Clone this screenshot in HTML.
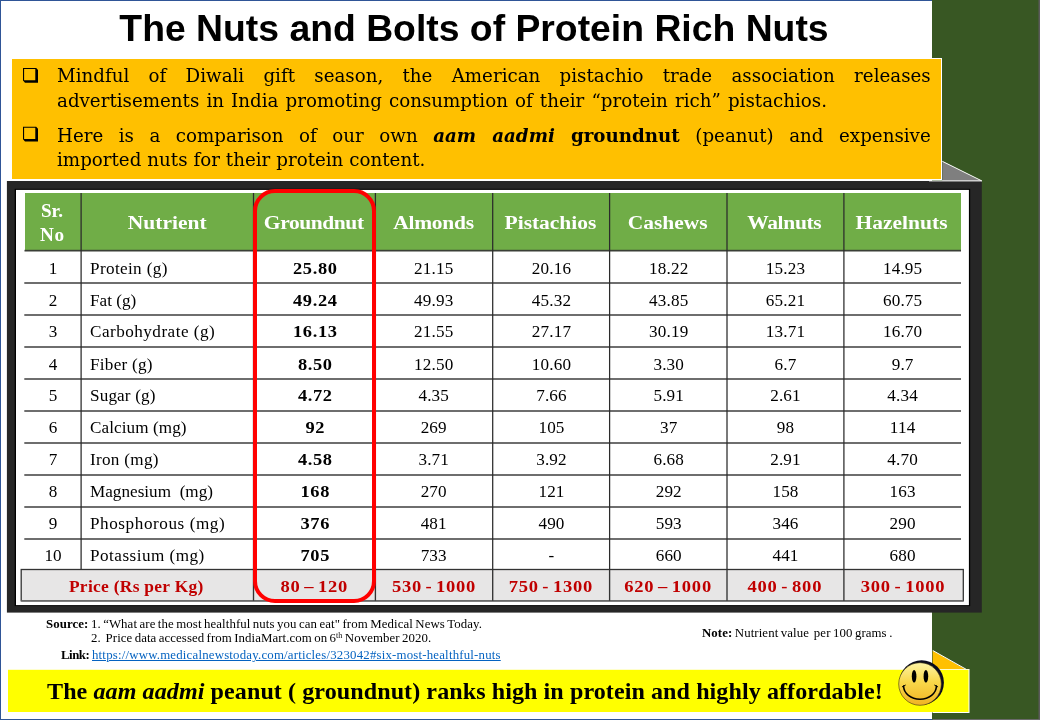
<!DOCTYPE html>
<html lang="en"><head><meta charset="utf-8"><title>The Nuts and Bolts of Protein Rich Nuts</title>
<style>
html,body{margin:0;padding:0}
body{width:1040px;height:720px;overflow:hidden;background:#385723;position:relative;font-family:"Liberation Serif", serif;color:#000}
.abs{position:absolute}
svg.abs{left:0;top:0}
.title,.bl,.hc,.c,.p,.src,.ytext{will-change:transform}
.slide{position:absolute;left:0;top:0;width:931px;height:718px;background:#fff;border-left:1px solid #2f5597;border-top:1px solid #2f5597;border-bottom:1px solid #2f5597}
.title{position:absolute;left:0;top:7px;width:948px;text-align:center;font:bold 37.33px/43px "Liberation Sans", sans-serif;white-space:nowrap}
.obox{position:absolute;left:11px;top:58px;width:929px;height:120px;background:#ffc000;border:1px solid #fff}
.bl{position:absolute;left:57.4px;white-space:nowrap;font-family:"DejaVu Serif", "Liberation Serif", serif;font-size:18.25px;line-height:26px;height:26px;text-align:justify;text-align-last:justify}
.c{transform:scaleX(1.07)}
.hc{transform:scaleX(1.12)}
.hc{position:absolute;color:#fff;font-weight:bold;font-size:19.2px;line-height:23.6px;text-align:center;white-space:nowrap}
.c{position:absolute;font-size:16px;line-height:32px;height:32px;white-space:pre;text-align:center;letter-spacing:0.15px;text-indent:0.15px}
.c.l{text-align:left;text-indent:0;transform-origin:0 50%}
.c.b{font-weight:bold;letter-spacing:0.55px;text-indent:0.55px;transform:scaleX(1.15)}
.p{position:absolute;color:#c00000;font-weight:bold;font-size:16.3px;line-height:31px;text-align:center;white-space:pre;word-spacing:-1.5px;transform:scaleX(1.14)}
.red{position:absolute;left:253px;top:188.5px;width:115px;height:406px;border:4px solid #ff0000;border-radius:22px}
.src{position:absolute;font-size:12px;line-height:14px;white-space:pre;transform:scaleX(1.07);transform-origin:0 50%}
.src u{color:#0563c1;text-decoration:underline}
.ybox{position:absolute;left:8px;top:670px;width:960.5px;height:42px;background:#ffff00}
.ytext{position:absolute;left:47px;top:670.9px;font-weight:bold;font-size:22.5px;line-height:42px;white-space:pre;letter-spacing:0.07px;transform:scaleX(1.07);transform-origin:0 50%}
</style></head>
<body>
<div class="slide"></div>
<svg class="abs" width="1040" height="720" viewBox="0 0 1040 720"><rect x="1038.5" y="0" width="1.5" height="720" fill="#5a5a5a"/><rect x="932.5" y="719" width="107.5" height="1" fill="#6a6a6a"/></svg>
<div class="title">The Nuts and Bolts of Protein Rich Nuts</div>
<div class="obox"></div>
<svg class="abs" width="60" height="200" viewBox="0 0 60 200"><path fill-rule="evenodd" d="M23 68H36.2L38 70V82.8H25L23 80.5Z M24.1 69.1V80.2H35.3V69.1Z"/><path fill-rule="evenodd" transform="translate(0 58.7)" d="M23 68H36.2L38 70V82.8H25L23 80.5Z M24.1 69.1V80.2H35.3V69.1Z"/></svg>
<div class="bl" style="top:63.0px;width:873.7px">Mindful of Diwali gift season, the American pistachio trade association releases</div>
<div class="bl" style="top:87.6px;width:770px">advertisements in India promoting consumption of their “protein rich” pistachios.</div>
<div class="bl" style="top:122.6px;width:873.7px">Here is a comparison of our own <b><i>aam aadmi</i> groundnut</b> (peanut) and expensive</div>
<div class="bl" style="top:147.2px;width:368.3px">imported nuts for their protein content.</div>
<svg class="abs" width="1040" height="720" viewBox="0 0 1040 720"><polygon points="942.3,161.3 981.8,181.3 942.3,181.3" fill="#7f7f7f"/><rect x="6.9" y="181" width="974.9" height="431.6" fill="#262626"/><polyline points="942.3,161.3 981.8,180.9 929,180.9" fill="none" stroke="#fff" stroke-width="1"/><rect x="14.7" y="188.8" width="955.5" height="417.3" fill="#000"/><rect x="16" y="189.9" width="952.9" height="415.2" fill="#fff"/><rect x="25" y="193" width="936" height="57.3" fill="#70ad47"/><rect x="24.5" y="249.8" width="936.5" height="1.7" fill="#3a3f36"/><rect x="24.3" y="282" width="936.7" height="2" fill="#6e6e6e"/><rect x="24.3" y="314" width="936.7" height="2" fill="#6e6e6e"/><rect x="24.3" y="346" width="936.7" height="2" fill="#6e6e6e"/><rect x="24.3" y="378" width="936.7" height="2" fill="#6e6e6e"/><rect x="24.3" y="410" width="936.7" height="2" fill="#6e6e6e"/><rect x="24.3" y="442" width="936.7" height="2" fill="#6e6e6e"/><rect x="24.3" y="474" width="936.7" height="2" fill="#6e6e6e"/><rect x="24.3" y="506" width="936.7" height="2" fill="#6e6e6e"/><rect x="24.3" y="538" width="936.7" height="2" fill="#6e6e6e"/><rect x="80.48" y="193" width="1.25" height="376.5" fill="#2b2b2b"/><rect x="252.88" y="193" width="1.25" height="376.5" fill="#2b2b2b"/><rect x="374.78" y="193" width="1.25" height="376.5" fill="#2b2b2b"/><rect x="492.08" y="193" width="1.25" height="376.5" fill="#2b2b2b"/><rect x="608.98" y="193" width="1.25" height="376.5" fill="#2b2b2b"/><rect x="726.38" y="193" width="1.25" height="376.5" fill="#2b2b2b"/><rect x="843.28" y="193" width="1.25" height="376.5" fill="#2b2b2b"/><rect x="21.2" y="569.5" width="942.1" height="31.3" fill="#e7e6e6" stroke="#333" stroke-width="1.3"/><rect x="21.2" y="600" width="942.1" height="1.6" fill="#6a6a6a"/><rect x="252.83" y="569.5" width="1.34" height="31.3" fill="#333"/><rect x="374.73" y="569.5" width="1.34" height="31.3" fill="#333"/><rect x="492.03" y="569.5" width="1.34" height="31.3" fill="#333"/><rect x="608.93" y="569.5" width="1.34" height="31.3" fill="#333"/><rect x="726.33" y="569.5" width="1.34" height="31.3" fill="#333"/><rect x="843.23" y="569.5" width="1.34" height="31.3" fill="#333"/></svg>
<div class="hc" style="left:24.4px;width:56.1px;top:199.0px;letter-spacing:-0.1px;text-indent:-0.1px;transform:none">Sr.</div>
<div class="hc" style="left:24.4px;width:56.1px;top:222.7px;letter-spacing:0.55px;text-indent:0.55px;transform:none">No</div>
<div class="hc" style="left:80.5px;width:172.4px;top:210.9px;letter-spacing:0.027px;text-indent:0.027px">Nutrient</div>
<div class="hc" style="left:252.9px;width:121.9px;top:210.9px;letter-spacing:-0.372px;text-indent:-0.372px">Groundnut</div>
<div class="hc" style="left:374.8px;width:117.3px;top:210.9px;letter-spacing:-0.209px;text-indent:-0.209px">Almonds</div>
<div class="hc" style="left:492.1px;width:116.9px;top:210.9px;letter-spacing:-0.024px;text-indent:-0.024px">Pistachios</div>
<div class="hc" style="left:609.0px;width:117.4px;top:210.9px;letter-spacing:-0.001px;text-indent:-0.001px">Cashews</div>
<div class="hc" style="left:726.4px;width:116.9px;top:210.9px;letter-spacing:-0.276px;text-indent:-0.276px">Walnuts</div>
<div class="hc" style="left:843.3px;width:117.1px;top:210.9px;letter-spacing:0.028px;text-indent:0.028px">Hazelnuts</div>
<div class="c" style="left:25px;width:56.1px;top:253px">1</div>
<div class="c l" style="left:90.2px;top:253px;letter-spacing:0.346px">Protein (g)</div>
<div class="c b" style="left:253.5px;width:121.9px;top:253px">25.80</div>
<div class="c" style="left:375.4px;width:117.3px;top:253px">21.15</div>
<div class="c" style="left:492.7px;width:116.9px;top:253px">20.16</div>
<div class="c" style="left:609.6px;width:117.4px;top:253px">18.22</div>
<div class="c" style="left:727.0px;width:116.9px;top:253px">15.23</div>
<div class="c" style="left:843.9px;width:117.1px;top:253px">14.95</div>
<div class="c" style="left:25px;width:56.1px;top:285px">2</div>
<div class="c l" style="left:90.2px;top:285px;letter-spacing:0.027px">Fat (g)</div>
<div class="c b" style="left:253.5px;width:121.9px;top:285px">49.24</div>
<div class="c" style="left:375.4px;width:117.3px;top:285px">49.93</div>
<div class="c" style="left:492.7px;width:116.9px;top:285px">45.32</div>
<div class="c" style="left:609.6px;width:117.4px;top:285px">43.85</div>
<div class="c" style="left:727.0px;width:116.9px;top:285px">65.21</div>
<div class="c" style="left:843.9px;width:117.1px;top:285px">60.75</div>
<div class="c" style="left:25px;width:56.1px;top:316px">3</div>
<div class="c l" style="left:90.2px;top:316px;letter-spacing:0.454px">Carbohydrate (g)</div>
<div class="c b" style="left:253.5px;width:121.9px;top:316px">16.13</div>
<div class="c" style="left:375.4px;width:117.3px;top:316px">21.55</div>
<div class="c" style="left:492.7px;width:116.9px;top:316px">27.17</div>
<div class="c" style="left:609.6px;width:117.4px;top:316px">30.19</div>
<div class="c" style="left:727.0px;width:116.9px;top:316px">13.71</div>
<div class="c" style="left:843.9px;width:117.1px;top:316px">16.70</div>
<div class="c" style="left:25px;width:56.1px;top:349px">4</div>
<div class="c l" style="left:90.2px;top:349px;letter-spacing:0.247px">Fiber (g)</div>
<div class="c b" style="left:253.5px;width:121.9px;top:349px">8.50</div>
<div class="c" style="left:375.4px;width:117.3px;top:349px">12.50</div>
<div class="c" style="left:492.7px;width:116.9px;top:349px">10.60</div>
<div class="c" style="left:609.6px;width:117.4px;top:349px">3.30</div>
<div class="c" style="left:727.0px;width:116.9px;top:349px">6.7</div>
<div class="c" style="left:843.9px;width:117.1px;top:349px">9.7</div>
<div class="c" style="left:25px;width:56.1px;top:380px">5</div>
<div class="c l" style="left:90.2px;top:380px;letter-spacing:0.142px">Sugar (g)</div>
<div class="c b" style="left:253.5px;width:121.9px;top:380px">4.72</div>
<div class="c" style="left:375.4px;width:117.3px;top:380px">4.35</div>
<div class="c" style="left:492.7px;width:116.9px;top:380px">7.66</div>
<div class="c" style="left:609.6px;width:117.4px;top:380px">5.91</div>
<div class="c" style="left:727.0px;width:116.9px;top:380px">2.61</div>
<div class="c" style="left:843.9px;width:117.1px;top:380px">4.34</div>
<div class="c" style="left:25px;width:56.1px;top:412px">6</div>
<div class="c l" style="left:90.2px;top:412px;letter-spacing:0.079px">Calcium (mg)</div>
<div class="c b" style="left:253.5px;width:121.9px;top:412px">92</div>
<div class="c" style="left:375.4px;width:117.3px;top:412px">269</div>
<div class="c" style="left:492.7px;width:116.9px;top:412px">105</div>
<div class="c" style="left:609.6px;width:117.4px;top:412px">37</div>
<div class="c" style="left:727.0px;width:116.9px;top:412px">98</div>
<div class="c" style="left:843.9px;width:117.1px;top:412px">114</div>
<div class="c" style="left:25px;width:56.1px;top:444px">7</div>
<div class="c l" style="left:90.2px;top:444px;letter-spacing:0.282px">Iron (mg)</div>
<div class="c b" style="left:253.5px;width:121.9px;top:444px">4.58</div>
<div class="c" style="left:375.4px;width:117.3px;top:444px">3.71</div>
<div class="c" style="left:492.7px;width:116.9px;top:444px">3.92</div>
<div class="c" style="left:609.6px;width:117.4px;top:444px">6.68</div>
<div class="c" style="left:727.0px;width:116.9px;top:444px">2.91</div>
<div class="c" style="left:843.9px;width:117.1px;top:444px">4.70</div>
<div class="c" style="left:25px;width:56.1px;top:476px">8</div>
<div class="c l" style="left:90.2px;top:476px;letter-spacing:0.021px">Magnesium  (mg)</div>
<div class="c b" style="left:253.5px;width:121.9px;top:476px">168</div>
<div class="c" style="left:375.4px;width:117.3px;top:476px">270</div>
<div class="c" style="left:492.7px;width:116.9px;top:476px">121</div>
<div class="c" style="left:609.6px;width:117.4px;top:476px">292</div>
<div class="c" style="left:727.0px;width:116.9px;top:476px">158</div>
<div class="c" style="left:843.9px;width:117.1px;top:476px">163</div>
<div class="c" style="left:25px;width:56.1px;top:508px">9</div>
<div class="c l" style="left:90.2px;top:508px;letter-spacing:0.54px">Phosphorous (mg)</div>
<div class="c b" style="left:253.5px;width:121.9px;top:508px">376</div>
<div class="c" style="left:375.4px;width:117.3px;top:508px">481</div>
<div class="c" style="left:492.7px;width:116.9px;top:508px">490</div>
<div class="c" style="left:609.6px;width:117.4px;top:508px">593</div>
<div class="c" style="left:727.0px;width:116.9px;top:508px">346</div>
<div class="c" style="left:843.9px;width:117.1px;top:508px">290</div>
<div class="c" style="left:25px;width:56.1px;top:540px">10</div>
<div class="c l" style="left:90.2px;top:540px;letter-spacing:0.456px">Potassium (mg)</div>
<div class="c b" style="left:253.5px;width:121.9px;top:540px">705</div>
<div class="c" style="left:375.4px;width:117.3px;top:540px">733</div>
<div class="c" style="left:492.7px;width:116.9px;top:540px">-</div>
<div class="c" style="left:609.6px;width:117.4px;top:540px">660</div>
<div class="c" style="left:727.0px;width:116.9px;top:540px">441</div>
<div class="c" style="left:843.9px;width:117.1px;top:540px">680</div>
<div class="p" style="left:20.3px;width:232.3px;top:571px;word-spacing:0;transform:scaleX(1.07);letter-spacing:0.27px;text-indent:0.27px">Price (Rs per Kg)</div>
<div class="p" style="left:252.6px;width:121.9px;top:571px;letter-spacing:0.646px;text-indent:0.646px">80 – 120</div>
<div class="p" style="left:374.5px;width:117.3px;top:571px;letter-spacing:0.633px;text-indent:0.633px">530 - 1000</div>
<div class="p" style="left:491.8px;width:116.9px;top:571px;letter-spacing:0.633px;text-indent:0.633px">750 - 1300</div>
<div class="p" style="left:608.7px;width:117.4px;top:571px;letter-spacing:0.672px;text-indent:0.672px">620 – 1000</div>
<div class="p" style="left:726.1px;width:116.9px;top:571px;letter-spacing:0.688px;text-indent:0.688px">400 - 800</div>
<div class="p" style="left:843.0px;width:119.4px;top:571px;letter-spacing:0.658px;text-indent:0.658px">300 - 1000</div>
<div class="red"></div>
<div class="src" style="left:45.6px;top:616.5px;letter-spacing:0.08px;word-spacing:-0.8px"><b>Source:</b> 1. “What are the most healthful nuts you can eat" from Medical News Today.</div>
<div class="src" style="left:91.2px;top:630.5px;letter-spacing:0.06px;word-spacing:-0.8px">2.  Price data accessed from IndiaMart.com on 6<sup style="font-size:7.5px;line-height:0;vertical-align:4px">th</sup> November 2020.</div>
<div class="src" style="left:61.2px;top:648px;letter-spacing:-0.45px"><b>Link:</b></div>
<div class="src" style="left:91.6px;top:648px;letter-spacing:0.18px"><u>https://www.medicalnewstoday.com/articles/323042#six-most-healthful-nuts</u></div>
<div class="src" style="left:702px;top:626px;letter-spacing:0.08px;word-spacing:-0.8px"><b>Note:</b> Nutrient value  per 100 grams .</div>
<svg class="abs" width="1040" height="720" viewBox="0 0 1040 720">
<polygon points="932.6,650.5 966,669.5 932.6,669.5" fill="#ffc000"/>
<polyline points="932.8,650.5 966.2,669.3" fill="none" stroke="#fff" stroke-width="1"/>
<rect x="932.5" y="669" width="37" height="44" fill="#fff"/>
<rect x="8" y="669.8" width="960.5" height="42.2" fill="#ffff00"/>
</svg>
<div class="ytext">The <i>aam aadmi</i> peanut ( groundnut) ranks high in protein and highly affordable!</div>
<svg class="abs" width="1040" height="720" viewBox="0 0 1040 720">
<defs><linearGradient id="sg" x1="0" y1="0" x2="0" y2="1"><stop offset="0" stop-color="#fdf3a6"/><stop offset="0.45" stop-color="#f9d84a"/><stop offset="1" stop-color="#f0b323"/></linearGradient></defs>
<circle cx="921.6" cy="682.6" r="22.3" fill="#0a0a1e"/>
<circle cx="920" cy="684" r="21.3" fill="url(#sg)" stroke="#3a3310" stroke-width="0.6"/>
<ellipse cx="914.1" cy="676.2" rx="2.3" ry="6.3" fill="#000"/>
<ellipse cx="925.9" cy="676.2" rx="2.3" ry="6.3" fill="#000"/>
<path d="M903.6 686 A16.4 13.2 0 0 0 936.4 686" fill="none" stroke="#000" stroke-width="1.5" stroke-linecap="round"/>
<path d="M902.3 686.8 L905.3 685.2 M937.7 686.8 L934.7 685.2" fill="none" stroke="#000" stroke-width="1" stroke-linecap="round"/>
</svg>
</body></html>
